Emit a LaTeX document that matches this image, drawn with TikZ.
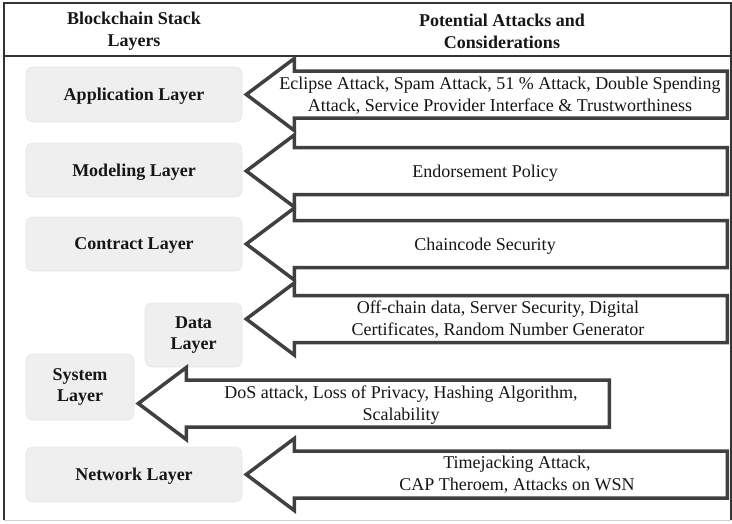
\documentclass[tikz,border=0pt]{standalone}
\usepackage{fontspec}
\setmainfont{Liberation Serif}
\usetikzlibrary{calc}
\definecolor{framegray}{HTML}{333333}
\definecolor{arrowgray}{HTML}{404040}
\definecolor{boxfill}{HTML}{EFEFEF}
\definecolor{boxedge}{HTML}{E6E6E6}
\definecolor{inkgray}{HTML}{161616}
\definecolor{rulegray}{HTML}{CFCFCF}

% block arrow pointing left: #1 tip coordinate, #2 shaft length
\newcommand\blockarrow[2]{%
  \draw[arrowline] (#1) -- ++(48,-36) -- ++(0,12.5) -- ++(#2,0)
    -- ++(0,47) -- ++(-#2,0) -- ++(0,12.5) -- cycle;}

\begin{document}
\begin{tikzpicture}[x=1pt,y=-1pt,
  layerbox/.style={draw=boxedge,line width=0.6pt,fill=boxfill,rounded corners=7pt,
    text=inkgray,font=\fontsize{18}{21.5}\selectfont\bfseries,align=center,
    inner sep=0pt},
  oneline/.style={text depth=0pt},
  headtext/.style={text=inkgray,font=\fontsize{18}{22}\selectfont\bfseries,align=center},
  attacktext/.style={text=inkgray,font=\fontsize{18}{22}\selectfont,align=center,inner sep=0pt},
  arrowline/.style={draw=arrowgray,line width=3.5pt,line join=miter,fill=white},
  frameline/.style={draw=framegray,line width=1.3pt}]

\useasboundingbox (0,0) rectangle (732,523);

% table frame
\draw[frameline] (4,520) -- (4,3) -- (731,3) -- (731,520);
\draw[frameline] (4,56) -- (731,56);
\draw[rulegray,line width=1pt] (4,520) -- (731,520);

% header
\node[headtext] (hleft) at (134,31) {Blockchain Stack\\Layers};
\node[headtext] (hright) at (502,31) {Potential Attacks and\\Considerations};

% stack layers
\node[layerbox,oneline,minimum width=216pt,minimum height=55pt] (app) at (134,94.5) {Application Layer};
\node[layerbox,oneline,minimum width=216pt,minimum height=54pt] (mod) at (134,170) {Modeling Layer};
\node[layerbox,oneline,minimum width=216pt,minimum height=54pt] (con) at (134,244) {Contract Layer};
\node[layerbox,minimum width=97pt,minimum height=64pt] (dat) at (193.5,335) {Data\\Layer};
\node[layerbox,minimum width=108pt,minimum height=66pt] (sys) at (80,387) {System\\Layer};
\node[layerbox,oneline,minimum width=216pt,minimum height=55pt] (net) at (134,474.5) {Network Layer};

% arrow tips resting on the layer boxes
\coordinate (tipApp) at ($(app.east)+(4,0)$);
\coordinate (tipMod) at ($(mod.east)+(4,1)$);
\coordinate (tipCon) at ($(con.east)+(4,0)$);
\coordinate (tipDat) at ($(dat.east |- 0,319)+(4,0)$);
\coordinate (tipSys) at ($(sys.east |- 0,403.5)+(4,0)$);
\coordinate (tipNet) at ($(net.east)+(4,0)$);

\blockarrow{tipApp}{433}
\blockarrow{tipMod}{433}
\blockarrow{tipCon}{433}
\blockarrow{tipDat}{433}
\blockarrow{tipSys}{423}
\blockarrow{tipNet}{433}

% attacks and considerations
\node[attacktext] (tApp) at (500,96) {Eclipse Attack, Spam Attack, 51 \% Attack, Double Spending\\Attack, Service Provider Interface \& Trustworthiness};
\node[attacktext,oneline] (tMod) at (485,171) {Endorsement Policy};
\node[attacktext,oneline] (tCon) at (485,244) {Chaincode Security};
\node[attacktext] (tDat) at (498,320) {Off-chain data, Server Security, Digital\\Certificates, Random Number Generator};
\node[attacktext] (tSys) at (401,405) {DoS attack, Loss of Privacy, Hashing Algorithm,\\Scalability};
\node[attacktext] (tNet) at (517,475) {Timejacking Attack,\\CAP Theroem, Attacks on WSN};
\end{tikzpicture}
\end{document}
